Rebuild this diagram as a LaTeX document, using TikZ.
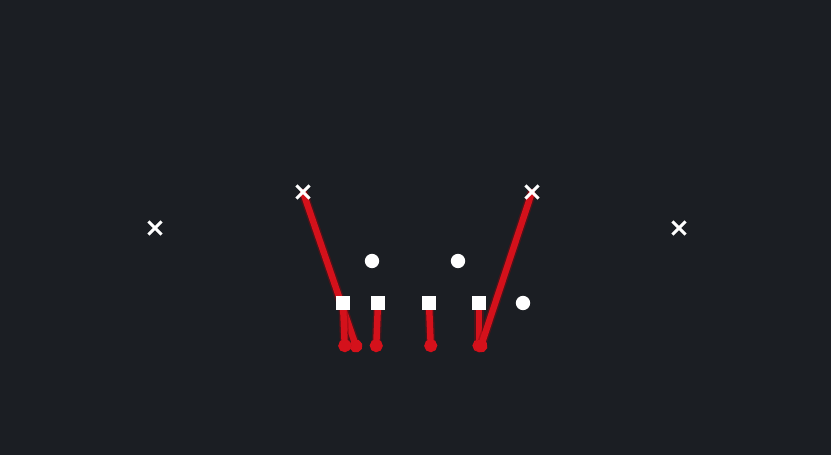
\documentclass[tikz,border=0pt]{standalone}
\usepackage{tikz}
\usetikzlibrary{arrows.meta,
                shapes.misc
                }
\definecolor{bgcol}{HTML}{1B1E23}
\definecolor{routered}{HTML}{D4111B}
\pgfdeclarelayer{field}
\pgfdeclarelayer{bg}
\pgfsetlayers{field,bg,main}

\tikzset{
    player/.style={cross out, draw=white, line width=2.6pt, minimum size=0.3cm,
    inner sep=0pt},
    linebox/.style={rectangle, fill=white, draw=none, minimum size=0.43cm,
    inner sep=0pt},
    back/.style={circle, fill=white, draw=none, minimum size=0.43cm,
    inner sep=0pt},
    route/.style={draw=routered, line width=5.5pt, line cap=round,
    preaction={draw=routered!60!black, opacity=0.45, line width=8pt},
    -{Circle[length=0.38cm, width=0.38cm]}}
}

\begin{document}
\begin{tikzpicture}[x=0.03cm, y=-0.03cm]
    \begin{pgfonlayer}{field}
    \fill[bgcol] (0,0) rectangle (831,455);
    \end{pgfonlayer}
    \useasboundingbox (0,0) rectangle (831,455);

    \node[player] (wrL) at (155,228) {};
    \node[player] (recL) at (303,192) {};
    \node[player] (recR) at (532,192) {};
    \node[player] (wrR) at (679,228) {};

    \node[back] (lbL) at (372,261) {};
    \node[back] (lbR) at (458,261) {};
    \node[back] (te) at (523,303) {};

    \node[linebox] (ol1) at (343,303) {};
    \node[linebox] (ol2) at (378,303) {};
    \node[linebox] (ol3) at (429,303) {};
    \node[linebox] (ol4) at (479,303) {};

    \coordinate (endA) at (358,352);
    \coordinate (endB) at (345,352);
    \coordinate (endC) at (376,352);
    \coordinate (endD) at (431,352);
    \coordinate (endE) at (479,352);

    \begin{pgfonlayer}{bg}
    \draw[route] (recL.center) -- (endA);
    \draw[route] (ol1.center) -- (endB);
    \draw[route] (ol2.center) -- (endC);
    \draw[route] (ol3.center) -- (endD);
    \draw[route] (ol4.center) -- (endE);
    \draw[route] (recR.center) -- (endE);
    \end{pgfonlayer}
\end{tikzpicture}
\end{document}
